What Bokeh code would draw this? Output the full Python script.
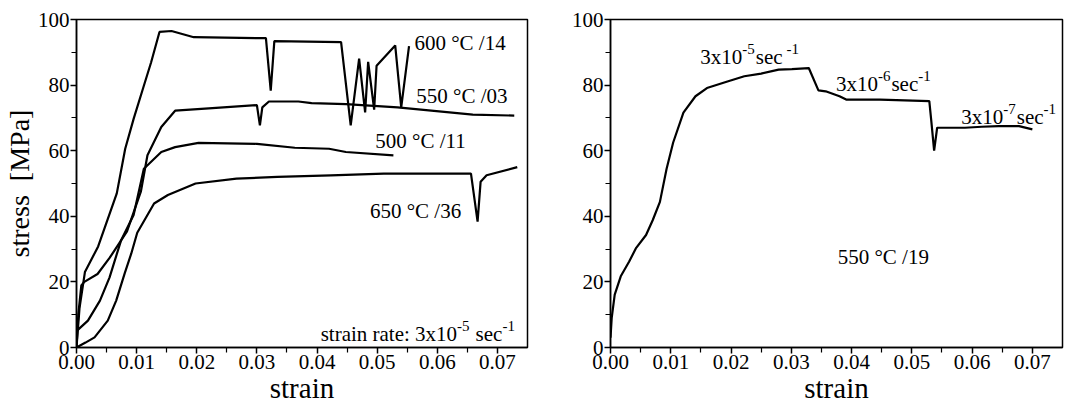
from bokeh.plotting import figure
from bokeh.layouts import row
from bokeh.models import FixedTicker, NumeralTickFormatter, Range1d, ColumnDataSource
from bokeh.core.properties import value
from bokeh.embed import file_html
from bokeh.resources import INLINE

FONT = "Liberation Serif"

# ---------------- left panel data (strain, stress MPa) ----------------
t600_strain = [0.0, 0.0005, 0.0014, 0.0036, 0.0067, 0.0081, 0.0095, 0.0112, 0.0124, 0.0138, 0.0158,
               0.0195, 0.0315, 0.0323, 0.0329, 0.0440, 0.0456, 0.0470, 0.0480, 0.0485, 0.0495,
               0.0499, 0.0530, 0.0540, 0.0553]
t600_stress = [0.0, 12.0, 23.0, 30.8, 47.0, 60.6, 69.7, 79.8, 86.9, 96.2, 96.5,
               94.6, 94.3, 78.3, 93.4, 93.1, 67.7, 88.1, 71.7, 87.1, 72.5,
               85.9, 92.1, 73.2, 91.9]

t550_strain = [0.0, 0.0003, 0.0008, 0.0013, 0.0035, 0.0055, 0.0084, 0.0107, 0.0118, 0.0141, 0.0164,
               0.0220, 0.0300, 0.0305, 0.0309, 0.0320, 0.0369, 0.0391, 0.0448, 0.0534, 0.0659, 0.0728]
t550_stress = [0.0, 10.0, 18.9, 20.0, 22.4, 27.3, 35.4, 47.5, 58.6, 67.2, 72.2,
               72.9, 73.9, 67.7, 73.2, 75.0, 75.0, 74.5, 74.2, 73.2, 71.0, 70.7]

t500_strain = [0.0, 0.0019, 0.0039, 0.0055, 0.0074, 0.0095, 0.0112, 0.0141, 0.0164, 0.0203,
               0.0300, 0.0363, 0.0420, 0.0448, 0.0527]
t500_stress = [5.0, 8.2, 14.3, 21.4, 32.6, 40.4, 54.5, 59.6, 61.1, 62.4,
               62.1, 60.9, 60.6, 59.6, 58.6]

t650_strain = [0.0, 0.0015, 0.0030, 0.0052, 0.0066, 0.0080, 0.0091, 0.0101, 0.0129, 0.0152, 0.0198,
               0.0266, 0.0334, 0.0423, 0.0511, 0.0656, 0.0667, 0.0672, 0.0682, 0.0733]
t650_stress = [0.0, 1.5, 3.1, 8.2, 14.3, 22.5, 28.6, 35.0, 43.9, 46.5, 50.0,
               51.5, 52.0, 52.5, 53.0, 53.0, 38.4, 50.5, 52.5, 55.0]

left_labels = ["600 \u00b0C /14", "550 \u00b0C /03", "500 \u00b0C /11", "650 \u00b0C /36"]
left_label_x = [0.0562, 0.0565, 0.0497, 0.0488]
left_label_y = [92.9, 76.6, 62.9, 41.7]

# strain-rate note: pieces (text, superscript?)
note_parts = [("strain rate: 3x10", False), ("-5", True), ("sec", False), ("-1", True)]
note_x = 0.0406
note_y = 4.0

# ---------------- right panel data ----------------
r_strain = [0.0, 0.0002, 0.0007, 0.0017, 0.0031, 0.0042, 0.0059, 0.0070, 0.0082, 0.0093, 0.0104,
            0.0121, 0.0141, 0.0160, 0.0194, 0.0222, 0.0250, 0.0279, 0.0301, 0.0329, 0.0345,
            0.0357, 0.0380, 0.0391, 0.0447, 0.0529, 0.0532, 0.0537, 0.0542, 0.0588, 0.0616,
            0.0644, 0.0678, 0.0700]
r_stress = [3.0, 9.0, 16.1, 21.7, 26.2, 30.2, 34.3, 38.8, 44.4, 54.4, 62.5,
            71.6, 76.6, 79.1, 81.1, 82.7, 83.5, 84.7, 84.9, 85.2, 78.4,
            78.1, 76.6, 75.6, 75.6, 75.1, 69.6, 60.0, 67.0, 67.0, 67.3,
            67.5, 67.5, 66.5]

rate_labels = [
    [("3x10", False), ("-5", True), ("sec", False), ("-1", True)],
    [("3x10", False), ("-6", True), ("sec", False), ("-1", True)],
    [("3x10", False), ("-7", True), ("sec", False), ("-1", True)],
]
rate_gap = [4, 0, 0]   # extra space before the trailing "-1" exponent
rate_x = [0.0149, 0.0374, 0.0582]
rate_y = [88.7, 80.3, 70.3]
temp_label = ["550 \u00b0C /19"]
temp_x = [0.0377]
temp_y = [27.7]

x_ticks = [0.0, 0.01, 0.02, 0.03, 0.04, 0.05, 0.06, 0.07]
x_minor = [0.005, 0.015, 0.025, 0.035, 0.045, 0.055, 0.065]
y_ticks = [0, 20, 40, 60, 80, 100]
y_minor = [10, 30, 50, 70, 90]

# approximate Times-like advance widths (em) used to chain text pieces
W = {'s': .389, 'e': .444, 'c': .444, '-': .333, ' ': .25, 't': .278, 'r': .333,
     'a': .444, 'i': .278, 'n': .5, ':': .278, 'x': .5}


def tw(s, size):
    return sum(W.get(ch, .5) for ch in s) * size


def add_pieces(p, x, y, parts, main, sup, gap_before_sec=0.0, gap_before_last=0.0):
    xs, ys, texts, dx, dy, sizes = [], [], [], [], [], []
    off = 0.0
    for i, (txt, is_sup) in enumerate(parts):
        size = sup if is_sup else main
        if txt == "sec":
            off += gap_before_sec
        if i == len(parts) - 1:
            off += gap_before_last
        xs.append(x)
        ys.append(y)
        texts.append(txt)
        dx.append(off)
        dy.append(-8 if is_sup else 0)
        sizes.append(f"{size}px")
        off += tw(txt, size) + (1 if is_sup else 0)
    src = ColumnDataSource(dict(x=xs, y=ys, text=texts, dx=dx, dy=dy, size=sizes))
    p.text(x="x", y="y", text="text", x_offset="dx", y_offset="dy", text_font_size="size",
           source=src, text_font=value(FONT), text_align="left", text_baseline="middle",
           text_color="black")


def make_fig(width, left, right, ylabel):
    p = figure(width=width, height=410, output_backend="svg", toolbar_location=None,
               x_range=Range1d(0, 0.075), y_range=Range1d(0, 100),
               min_border_left=left, min_border_right=right,
               min_border_top=19, min_border_bottom=63)
    p.grid.visible = False
    p.outline_line_color = "black"
    p.outline_line_width = 1.5
    p.background_fill_color = "white"
    p.border_fill_color = "white"
    p.xaxis.ticker = FixedTicker(ticks=x_ticks, minor_ticks=x_minor)
    p.yaxis.ticker = FixedTicker(ticks=y_ticks, minor_ticks=y_minor)
    p.xaxis.formatter = NumeralTickFormatter(format="0.00")
    for ax in (p.xaxis, p.yaxis):
        ax.axis_line_width = 1.5
        ax.axis_line_color = "black"
        ax.major_tick_line_color = "black"
        ax.minor_tick_line_color = "black"
        ax.major_tick_line_width = 1.5
        ax.minor_tick_line_width = 1.2
        ax.major_tick_in = 0
        ax.major_tick_out = 6
        ax.minor_tick_in = 0
        ax.minor_tick_out = 5
        ax.major_label_text_font = FONT
        ax.major_label_text_font_size = "21px"
        ax.major_label_text_color = "black"
        ax.major_label_standoff = 1
        ax.axis_label_text_font = FONT
        ax.axis_label_text_font_style = "normal"
        ax.axis_label_text_color = "black"
        ax.axis_label_standoff = 0
    p.xaxis.axis_label = "strain"
    p.xaxis.axis_label_text_font_size = "29px"
    if ylabel:
        p.yaxis.axis_label = ylabel
        p.yaxis.axis_label_text_font_size = "28px"
    return p


p1 = make_fig(540, 73, 13, "stress\u00a0\u00a0[MPa]")
for xs, ys in [(t600_strain, t600_stress), (t550_strain, t550_stress),
               (t500_strain, t500_stress), (t650_strain, t650_stress)]:
    p1.line(xs, ys, line_color="black", line_width=2.2)
p1.text(x=left_label_x, y=left_label_y, text=left_labels, text_font=value(FONT),
        text_font_size="21px", text_align="left", text_baseline="middle", text_color="black")
add_pieces(p1, note_x, note_y, note_parts, 21, 15, gap_before_sec=5)

p2 = make_fig(533, 70, 11, None)
p2.line(r_strain, r_stress, line_color="black", line_width=2.2)
for parts, lx, ly, g in zip(rate_labels, rate_x, rate_y, rate_gap):
    add_pieces(p2, lx, ly, parts, 21, 15, gap_before_last=g)
p2.text(x=temp_x, y=temp_y, text=temp_label, text_font=value(FONT),
        text_font_size="21px", text_align="left", text_baseline="middle", text_color="black")

layout = row(p1, p2)
open("out.html", "w").write(file_html(layout, INLINE))
